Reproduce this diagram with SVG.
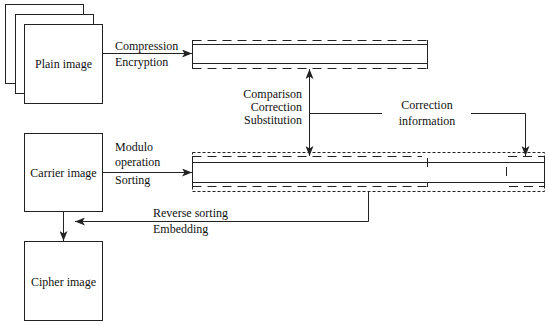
<svg xmlns="http://www.w3.org/2000/svg" width="550" height="325" viewBox="0 0 550 325">
<defs>
<style>
.box{fill:#fff;stroke:#222;stroke-width:1}
.ln{fill:none;stroke:#222;stroke-width:1}
.dash{fill:none;stroke:#222;stroke-width:1;stroke-dasharray:9,6}
.dot{fill:none;stroke:#222;stroke-width:1;stroke-dasharray:3,2}
.t{font-family:'Liberation Serif','DejaVu Serif',serif;font-size:12px;fill:#111}
.c{text-anchor:middle}
.r{text-anchor:end}
</style>
<marker id="ah" markerWidth="10" markerHeight="8" refX="10" refY="4" orient="auto" markerUnits="userSpaceOnUse">
<path d="M0,0 L10,4 L0,8 L2.5,4 z" fill="#222"/>
</marker>
<marker id="ahs" markerWidth="10" markerHeight="8" refX="0" refY="4" orient="auto" markerUnits="userSpaceOnUse">
<path d="M10,0 L0,4 L10,8 L7.5,4 z" fill="#222"/>
</marker>
</defs>
<rect width="550" height="325" fill="#fff"/>
<g id="plain-image">
<rect class="box" x="5.5" y="4.5" width="78" height="79"/>
<rect class="box" x="15.5" y="14.5" width="78" height="79"/>
<rect class="box" x="24.5" y="24.5" width="78" height="79"/>
<text class="t c" x="63.5" y="67.5" font-family="Liberation Serif, serif">Plain image</text>
</g>
<g id="carrier-image">
<rect class="box" x="24.5" y="133.5" width="78" height="78"/>
<text class="t c" x="63.5" y="176.5" font-family="Liberation Serif, serif">Carrier image</text>
</g>
<g id="cipher-image">
<rect class="box" x="24.5" y="241.5" width="78" height="79"/>
<text class="t c" x="63.5" y="285.5" font-family="Liberation Serif, serif">Cipher image</text>
</g>
<g id="top-bar">
<line class="dash" x1="192.5" y1="40.5" x2="427.5" y2="40.5"/>
<line class="ln" x1="192.5" y1="44.5" x2="427.5" y2="44.5"/>
<line class="ln" x1="192.5" y1="63.5" x2="427.5" y2="63.5"/>
<line class="dash" x1="192.5" y1="68.5" x2="427.5" y2="68.5"/>
<line class="ln" x1="192.5" y1="40" x2="192.5" y2="69"/>
<line class="ln" x1="427.5" y1="40" x2="427.5" y2="69"/>
</g>
<g id="bottom-bar">
<rect class="dot" x="192.5" y="152.5" width="352" height="39"/>
<line class="dash" x1="192.5" y1="156.5" x2="422" y2="156.5"/>
<line class="dash" x1="508" y1="156.5" x2="544.5" y2="156.5"/>
<line class="ln" x1="192.5" y1="162.5" x2="544.5" y2="162.5"/>
<line class="ln" x1="192.5" y1="182.5" x2="544.5" y2="182.5"/>
<line class="dash" x1="192.5" y1="186.5" x2="427.5" y2="186.5"/>
<line class="dash" x1="509" y1="186.5" x2="544.5" y2="186.5"/>
<line class="ln" x1="192.5" y1="156" x2="192.5" y2="187"/>
<line class="ln" x1="544.5" y1="156" x2="544.5" y2="187"/>
<line class="ln" x1="427.5" y1="158" x2="427.5" y2="167"/>
<line class="ln" x1="427.5" y1="182" x2="427.5" y2="187"/>
<line class="ln" x1="506.5" y1="167" x2="506.5" y2="176"/>
</g>
<g id="connectors">
<line class="ln" x1="103" y1="53.5" x2="192" y2="53.5" marker-end="url(#ah)"/>
<line class="ln" x1="103" y1="172.5" x2="192" y2="172.5" marker-end="url(#ah)"/>
<line class="ln" x1="309.5" y1="69" x2="309.5" y2="156" marker-start="url(#ahs)" marker-end="url(#ah)"/>
<polyline class="ln" points="309.5,113.5 382,113.5"/>
<polyline class="ln" points="471,113.5 525.5,113.5 525.5,156" marker-end="url(#ah)"/>
<polyline class="ln" points="368.5,192 368.5,221.5 75,221.5" marker-end="url(#ah)"/>
<line class="ln" x1="63.5" y1="212" x2="63.5" y2="241" marker-end="url(#ah)"/>
</g>
<g id="labels" class="t" font-family="Liberation Serif, serif" font-size="12">
<text x="115" y="50">Compression</text>
<text x="115" y="66">Encryption</text>
<text x="115" y="151">Modulo</text>
<text x="115" y="166">operation</text>
<text x="115" y="184">Sorting</text>
<text class="r" x="302" y="98">Comparison</text>
<text class="r" x="302" y="111">Correction</text>
<text class="r" x="302" y="124">Substitution</text>
<text class="c" x="427" y="109">Correction</text>
<text class="c" x="427" y="125">information</text>
<text x="153" y="217">Reverse sorting</text>
<text x="153" y="233">Embedding</text>
</g>
</svg>
